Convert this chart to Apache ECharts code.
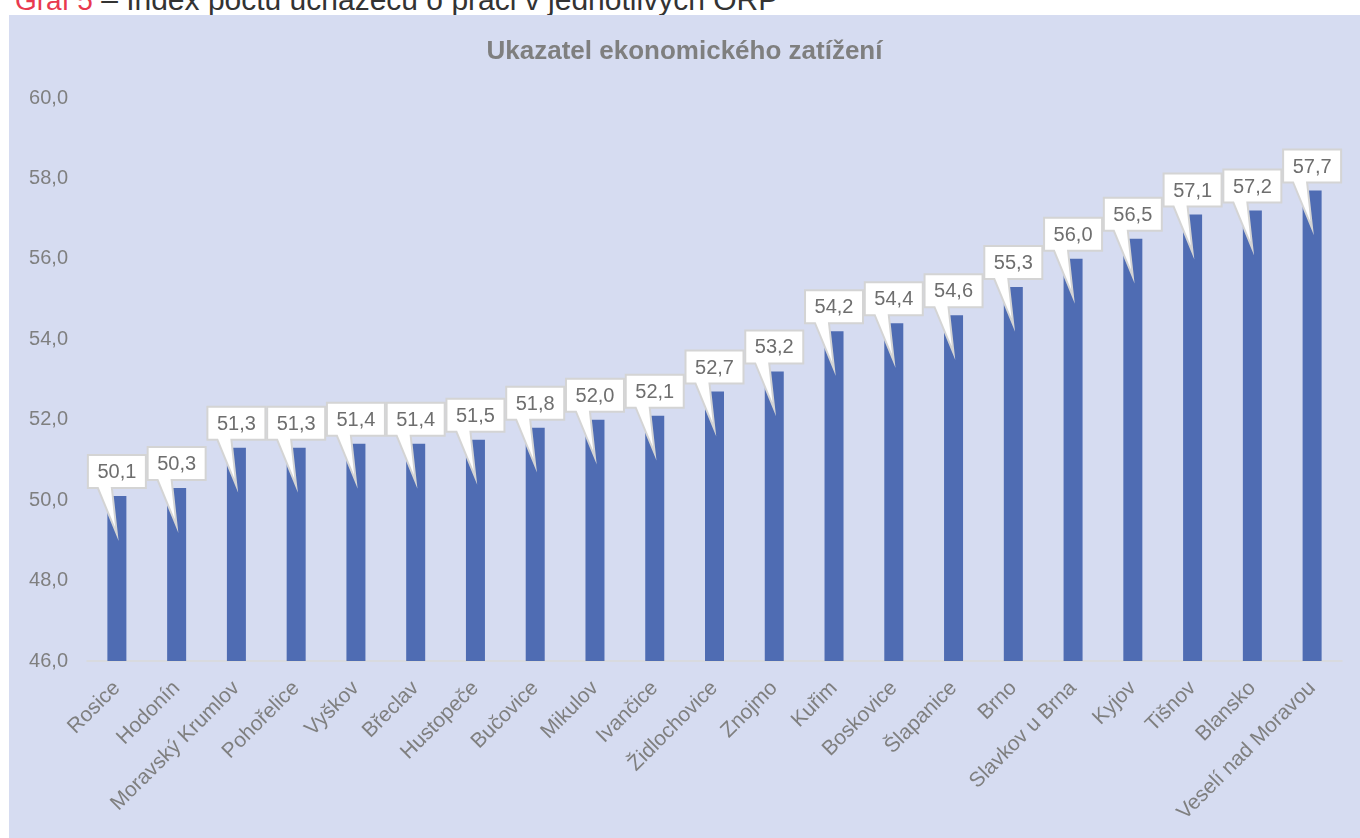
<!DOCTYPE html>
<html>
<head>
<meta charset="utf-8">
<script src="https://cdn.jsdelivr.net/npm/echarts@6/dist/echarts.min.js"></script>
<style>
  body { margin: 0; background: #ffffff; width: 1360px; height: 838px; overflow: hidden; position: relative; }
  #caption { position: absolute; left: 15px; top: 0; height: 15px; width: 1000px; overflow: hidden; }
  #caption span.in { position: absolute; left: 0; top: -17px; font-family: "Liberation Sans", Arial, sans-serif; font-size: 30px; line-height: 34px; white-space: nowrap; color: #333333; }
  #caption .red { color: #E8394F; font-size: 28px; }
  #chart { position: absolute; left: 9px; top: 15px; width: 1351px; height: 823px; background: #D6DCF1; }
</style>
</head>
<body>
<div id="caption"><span class="in"><span class="red">Graf 5</span> – Index počtu uchazečů o práci v jednotlivých ORP</span></div>
<div id="chart"></div>
<script>
// Data z grafu
const nazevGrafu = 'Ukazatel ekonomického zatížení';
const orp = ['Rosice', 'Hodonín', 'Moravský Krumlov', 'Pohořelice', 'Vyškov', 'Břeclav', 'Hustopeče',
    'Bučovice', 'Mikulov', 'Ivančice', 'Židlochovice', 'Znojmo', 'Kuřim', 'Boskovice', 'Šlapanice',
    'Brno', 'Slavkov u Brna', 'Kyjov', 'Tišnov', 'Blansko', 'Veselí nad Moravou'];
const hodnoty = [50.1, 50.3, 51.3, 51.3, 51.4, 51.4, 51.5, 51.8, 52.0, 52.1, 52.7, 53.2, 54.2, 54.4,
    54.6, 55.3, 56.0, 56.5, 57.1, 57.2, 57.7];
const osaY = { min: 46, max: 60, interval: 2 };

const sedaText = '#7F7F7F';
const fmt = v => v.toFixed(1).replace('.', ',');

// Popisek ve tvaru bubliny se špičkou do sloupce
function renderCallout(params, api) {
    const pt = api.coord([api.value(0), api.value(1)]);
    const cx = pt[0];
    const w = 58, h = 33;
    const x0 = cx - w / 2, x1 = cx + w / 2;
    const y1 = pt[1] - 8, y0 = y1 - h;
    const tip = pt[1] + 38;
    return {
        type: 'group',
        children: [
            {
                type: 'polygon',
                shape: { points: [[x0, y0], [x1, y0], [x1, y1], [cx - 5, y1], [cx, tip], [cx - 19, y1], [x0, y1]] },
                style: { fill: '#ffffff', stroke: '#D4D4D4', lineWidth: 2, lineJoin: 'miter' }
            },
            {
                type: 'text',
                style: {
                    text: fmt(api.value(1)),
                    x: cx, y: (y0 + y1) / 2 + 1,
                    align: 'center', verticalAlign: 'middle',
                    fill: '#6E6E6E', fontSize: 20,
                    fontFamily: '"Liberation Sans", Arial, sans-serif'
                }
            }
        ]
    };
}

const chart = echarts.init(document.getElementById('chart'));
chart.setOption({
    animation: false,
    textStyle: { fontFamily: '"Liberation Sans", Arial, sans-serif' },
    title: {
        text: nazevGrafu,
        left: 'center',
        top: 19,
        textStyle: { fontSize: 26, fontWeight: 'bold', color: sedaText }
    },
    grid: { left: 78, right: 18, top: 83, bottom: 177, containLabel: false },
    xAxis: {
        type: 'category',
        data: orp,
        axisLine: { lineStyle: { color: '#D9D9D9', width: 1.5 } },
        axisTick: { show: false },
        axisLabel: { interval: 0, rotate: 45, color: sedaText, fontSize: 21, margin: 24 }
    },
    yAxis: {
        type: 'value',
        min: osaY.min,
        max: osaY.max,
        interval: osaY.interval,
        splitLine: { show: false },
        axisLine: { show: false },
        axisTick: { show: false },
        axisLabel: { color: sedaText, fontSize: 20, margin: 19, formatter: fmt }
    },
    series: [
        {
            type: 'bar',
            data: hodnoty,
            barWidth: 19,
            itemStyle: { color: '#4F6CB3' }
        },
        {
            type: 'custom',
            renderItem: renderCallout,
            data: hodnoty.map((v, i) => [i, v]),
            encode: { x: 0, y: 1 },
            z: 5
        }
    ]
});
</script>
</body>
</html>
